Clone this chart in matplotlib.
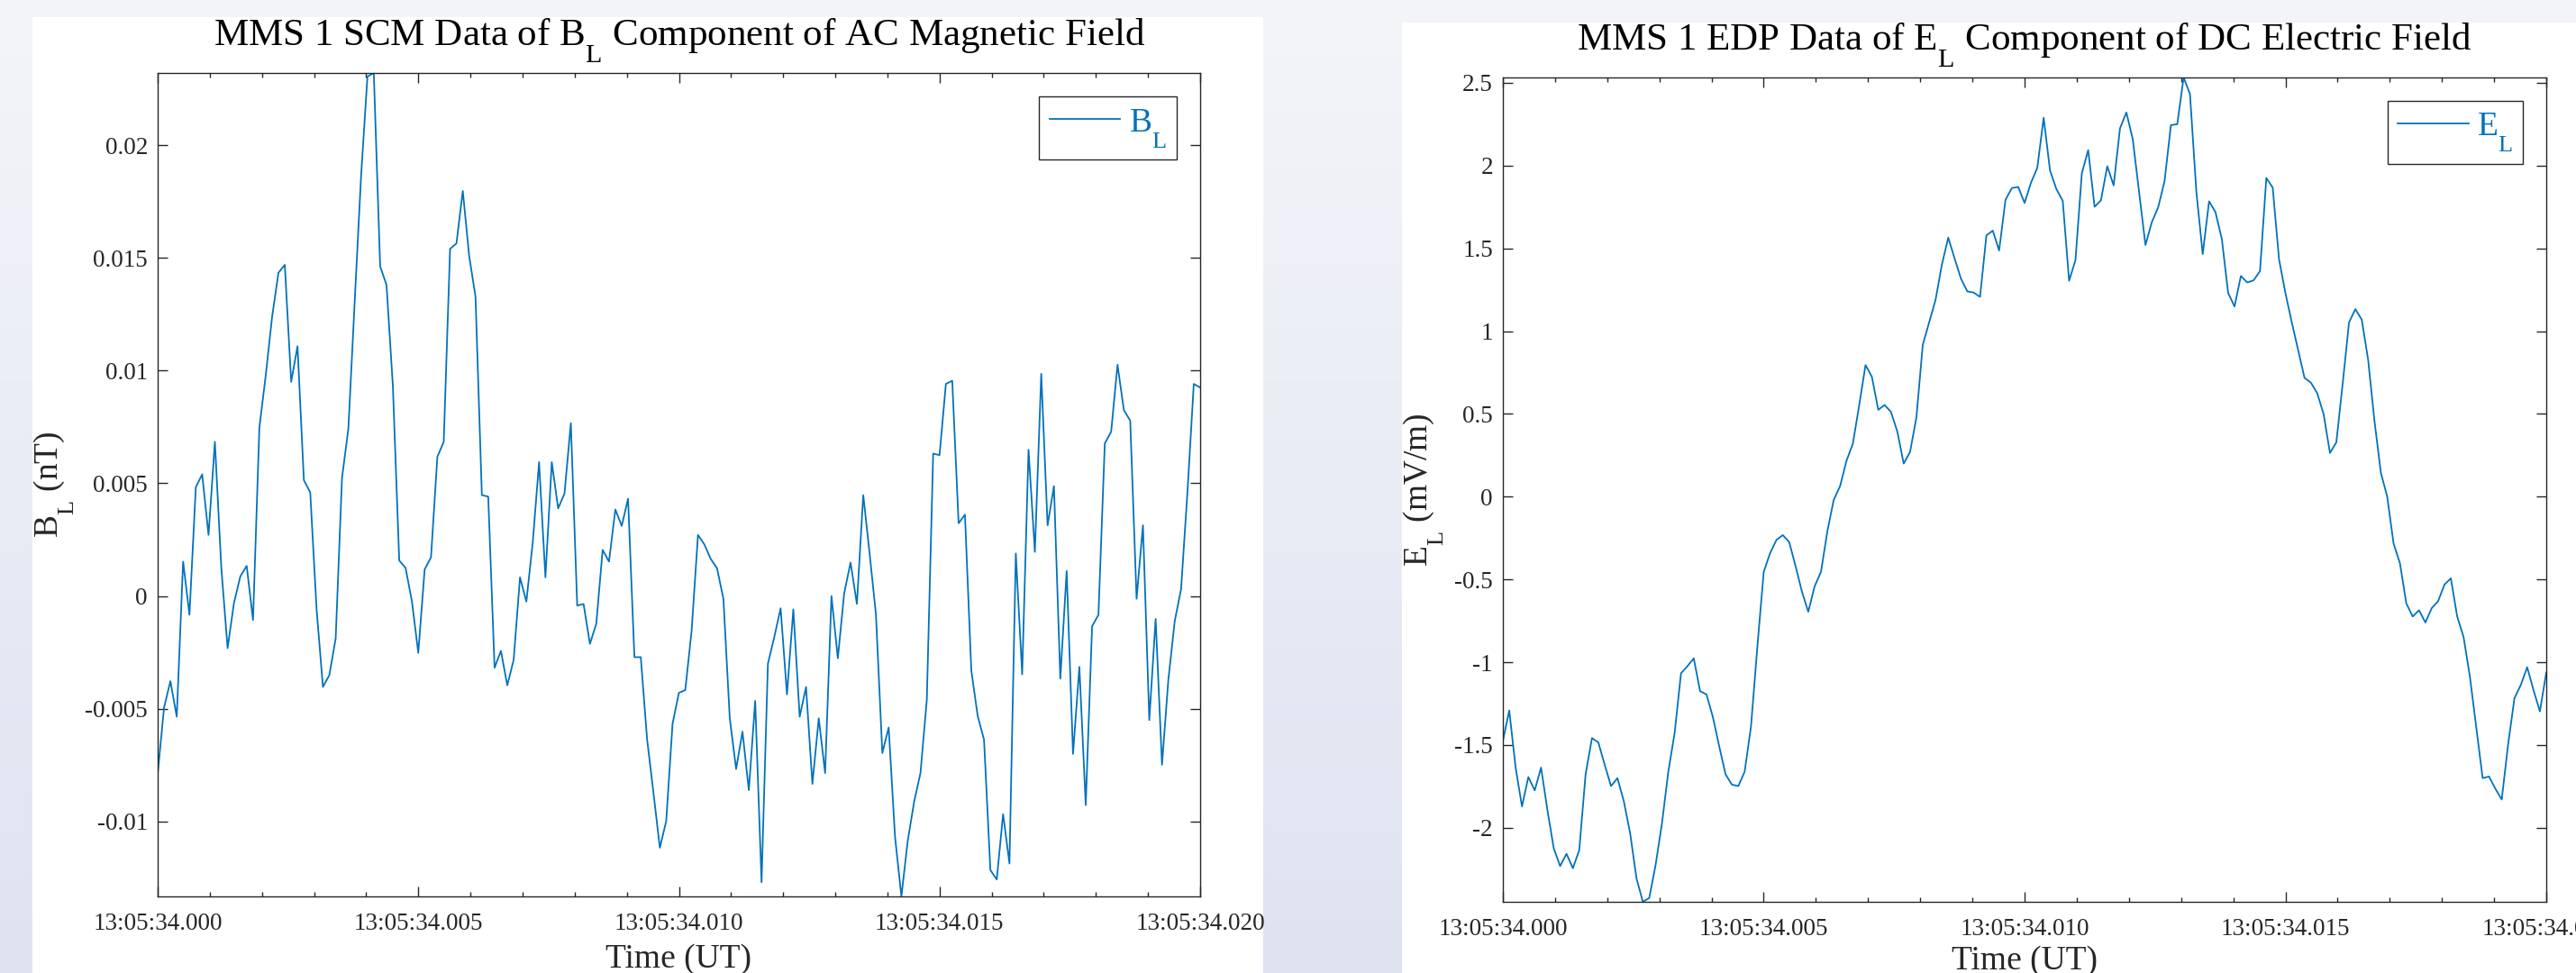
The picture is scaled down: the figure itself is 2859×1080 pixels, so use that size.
import matplotlib
matplotlib.use('Agg')
import matplotlib.pyplot as plt
import matplotlib._mathtext as mathtext_internal
from matplotlib.colors import LinearSegmentedColormap
from matplotlib.patches import Rectangle
from matplotlib.ticker import MultipleLocator, FuncFormatter
import numpy as np

plt.rcParams['font.family'] = ['Liberation Serif', 'DejaVu Serif']
plt.rcParams['mathtext.fontset'] = 'custom'
plt.rcParams['mathtext.rm'] = 'Liberation Serif'
plt.rcParams['mathtext.it'] = 'Liberation Serif:italic'
plt.rcParams['mathtext.bf'] = 'Liberation Serif:bold'
# MATLAB's tex interpreter drops subscripts much lower than mathtext does
mathtext_internal.FontConstantsBase.sub1 = 1.0

# time base: 13:05:34.000 + 0..20 ms, 165 samples
t_start = '13:05:34'
t_span_ms = 20.0

# SCM B_L (nT)
b_l = [-0.00790, -0.00495, -0.00377, -0.00535, 0.00153, -0.00083, 0.00483, 0.00540,
       0.00271, 0.00684, 0.00130, -0.00231, -0.00031, 0.00087, 0.00134, -0.00106,
       0.00748, 0.00979, 0.01238, 0.01434, 0.01469, 0.00950, 0.01108, 0.00514,
       0.00460, -0.00059, -0.00403, -0.00351, -0.00189, 0.00524, 0.00743, 0.01309,
       0.01863, 0.02304, 0.02320, 0.01462, 0.01380, 0.00932, 0.00158, 0.00125,
       -0.00024, -0.00252, 0.00118, 0.00172, 0.00618, 0.00684, 0.01540, 0.01564,
       0.01797, 0.01509, 0.01328, 0.00448, 0.00441, -0.00318, -0.00243, -0.00396,
       -0.00283, 0.00083, -0.00024, 0.00236, 0.00594, 0.00083, 0.00594, 0.00389,
       0.00455, 0.00767, -0.00042, -0.00035, -0.00212, -0.00123, 0.00205, 0.00153,
       0.00384, 0.00311, 0.00432, -0.00271, -0.00271, -0.00637, -0.00873, -0.01116,
       -0.00998, -0.00566, -0.00429, -0.00417, -0.00153, 0.00271, 0.00229, 0.00165,
       0.00123, -0.00012, -0.00542, -0.00767, -0.00601, -0.00861, -0.00465, -0.01269,
       -0.00300, -0.00182, -0.00054, -0.00436, -0.00059, -0.00535, -0.00403, -0.00833,
       -0.00542, -0.00785, 0.00000, -0.00276, 0.00012, 0.00149, -0.00035, 0.00448,
       0.00189, -0.00083, -0.00696, -0.00583, -0.01068, -0.01332, -0.01085, -0.00913,
       -0.00785, -0.00460, 0.00632, 0.00625, 0.00941, 0.00955, 0.00323, 0.00361,
       -0.00330, -0.00531, -0.00637, -0.01215, -0.01257, -0.00967, -0.01186, 0.00189,
       -0.00347, 0.00649, 0.00196, 0.00986, 0.00314, 0.00488, -0.00366, 0.00111,
       -0.00700, -0.00314, -0.00927, -0.00134, -0.00083, 0.00677, 0.00729, 0.01026,
       0.00825, 0.00778, -0.00012, 0.00314, -0.00550, -0.00101, -0.00748, -0.00370,
       -0.00111, 0.00031, 0.00460, 0.00941, 0.00925]

# EDP E_L (mV/m)
e_l = [-1.475, -1.291, -1.636, -1.871, -1.693, -1.774, -1.636, -1.893, -2.125, -2.231,
       -2.157, -2.244, -2.135, -1.677, -1.458, -1.484, -1.619, -1.748, -1.700, -1.838,
       -2.032, -2.305, -2.447, -2.424, -2.225, -1.974, -1.661, -1.426, -1.066, -1.024,
       -0.976, -1.175, -1.194, -1.330, -1.507, -1.677, -1.739, -1.748, -1.661, -1.388,
       -0.905, -0.454, -0.341, -0.261, -0.232, -0.274, -0.419, -0.573, -0.695, -0.541,
       -0.454, -0.209, -0.019, 0.064, 0.216, 0.319, 0.551, 0.795, 0.724, 0.525,
       0.554, 0.512, 0.393, 0.200, 0.270, 0.480, 0.918, 1.053, 1.188, 1.401,
       1.565, 1.439, 1.317, 1.240, 1.233, 1.207, 1.578, 1.607, 1.487, 1.793,
       1.864, 1.871, 1.774, 1.896, 1.986, 2.289, 1.970, 1.858, 1.787, 1.304,
       1.429, 1.954, 2.093, 1.751, 1.790, 1.996, 1.880, 2.225, 2.321, 2.160,
       1.842, 1.520, 1.658, 1.748, 1.906, 2.244, 2.250, 2.532, 2.431, 1.842,
       1.465, 1.784, 1.719, 1.558, 1.230, 1.149, 1.333, 1.294, 1.307, 1.362,
       1.925, 1.867, 1.433, 1.230, 1.053, 0.885, 0.718, 0.689, 0.625, 0.499,
       0.264, 0.328, 0.683, 1.053, 1.133, 1.069, 0.827, 0.457, 0.145, 0.000,
       -0.283, -0.402, -0.644, -0.724, -0.686, -0.760, -0.673, -0.631, -0.531, -0.493,
       -0.724, -0.847, -1.088, -1.394, -1.700, -1.690, -1.764, -1.829, -1.497, -1.217,
       -1.137, -1.030, -1.169, -1.297, -1.062]

line_color = '#0072BD'
axis_color = '#262626'

W, H = 2859, 1080
fig = plt.figure(figsize=(W / 100, H / 100), dpi=100)

# page background and white panels
bg = fig.add_axes([0, 0, 1, 1], zorder=-10)
bg.set_xlim(0, W)
bg.set_ylim(H, 0)
bg.axis('off')
grad = LinearSegmentedColormap.from_list('bg', ['#f4f5f9', '#dfe3f1'])
bg.imshow(np.linspace(0, 1, 256).reshape(-1, 1), cmap=grad, aspect='auto',
          extent=[0, W, H, 0], interpolation='bilinear')
bg.add_patch(Rectangle((36, 19), 1366, H - 19, facecolor='white', edgecolor='none'))
bg.add_patch(Rectangle((1556, 25), W - 1556, H - 25, facecolor='white', edgecolor='none'))


def x_fmt(v, pos):
    return f'{t_start}.{int(round(v)):03d}'


def y_fmt(v, pos):
    v = round(v, 6)
    if abs(v) < 1e-9:
        return '0'
    return f'{v:g}'


def style(ax, ystep, xlabelpad):
    ax.set_xlim(0, t_span_ms)
    ax.xaxis.set_major_locator(MultipleLocator(5))
    ax.xaxis.set_minor_locator(MultipleLocator(1))
    ax.xaxis.set_major_formatter(FuncFormatter(x_fmt))
    ax.yaxis.set_major_locator(MultipleLocator(ystep))
    ax.yaxis.set_major_formatter(FuncFormatter(y_fmt))
    ax.tick_params(which='both', direction='in', top=True, right=True,
                   color=axis_color, labelcolor=axis_color, width=1.0)
    ax.tick_params(which='major', length=8, labelsize=19.5)
    ax.tick_params(which='minor', length=3.6)
    ax.tick_params(axis='x', which='major', pad=13)
    ax.tick_params(axis='y', which='major', pad=8)
    for s in ax.spines.values():
        s.set_color(axis_color)
        s.set_linewidth(1.0)
    ax.set_xlabel('Time (UT)', fontsize=27, color=axis_color, labelpad=xlabelpad)


# left: SCM magnetic field
ax1 = fig.add_axes([175 / W, 1 - 995 / H, 1157 / W, 914 / H])
t1 = np.linspace(0, t_span_ms, len(b_l))
ax1.plot(t1, b_l, color=line_color, lw=1.3, label=r'$\mathrm{B_L}$')
style(ax1, 0.005, 7)
ax1.set_ylim(min(b_l), max(b_l))
ax1.set_title(r'MMS 1 SCM Data of $\mathrm{B_L}$ Component of AC Magnetic Field',
              fontsize=31, pad=22)
ax1.set_ylabel(r'$\mathrm{B_L}$ (nT)', fontsize=27, color=axis_color, va='center')
ax1.yaxis.set_label_coords(-0.100, 0.5)

# right: EDP electric field
ax2 = fig.add_axes([1668 / W, 1 - 1001 / H, 1158 / W, 915 / H])
t2 = np.linspace(0, t_span_ms, len(e_l))
ax2.plot(t2, e_l, color=line_color, lw=1.3, label=r'$\mathrm{E_L}$')
style(ax2, 0.5, 4)
ax2.set_ylim(min(e_l), max(e_l))
ax2.set_title(r'MMS 1 EDP Data of $\mathrm{E_L}$ Component of DC Electric Field',
              fontsize=31, pad=22)
ax2.set_ylabel(r'$\mathrm{E_L}$ (mV/m)', fontsize=27, color=axis_color, va='center')
ax2.yaxis.set_label_coords(-0.076, 0.5)

for ax in (ax1, ax2):
    leg = ax.legend(loc='upper right', fontsize=27, fancybox=False, framealpha=1,
                    edgecolor=axis_color, labelcolor='linecolor', handlelength=2.1,
                    handletextpad=0.25, borderpad=0.3, borderaxespad=0.7)
    leg.get_frame().set_linewidth(1.0)

fig.savefig('out.png', dpi=100)
